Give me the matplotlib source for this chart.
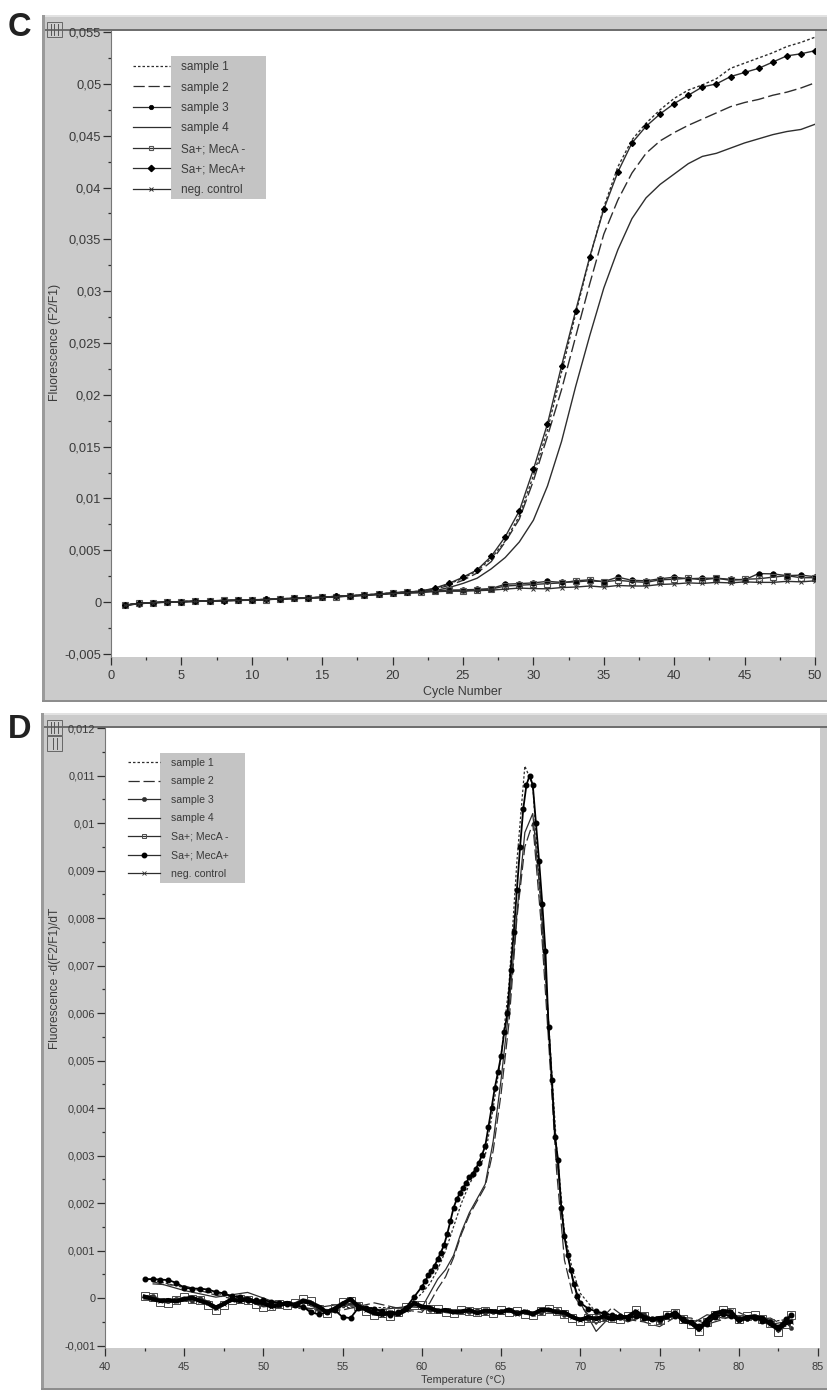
"""Rebuild the two-panel qPCR figure (C amplification, D melting curves)."""
import matplotlib

matplotlib.use("Agg")
import matplotlib.pyplot as plt
from matplotlib.patches import Rectangle

W, H = 828, 1390
plt.rcParams["font.family"] = ["Liberation Sans", "DejaVu Sans"]

LEGEND_NAMES = ["sample 1", "sample 2", "sample 3", "sample 4",
                "Sa+; MecA -", "Sa+; MecA+", "neg. control"]

# panel C, fluorescence in units of 0.001
CYCLES = list(range(1, 51))
C_SAMPLE1 = [-0.28, -0.12, -0.04, 0.0, 0.05, 0.09, 0.12, 0.15, 0.17, 0.21, 0.26, 0.31, 0.36, 0.41, 0.47, 0.55,
             0.62, 0.70, 0.78, 0.88, 0.97, 1.05, 1.30, 1.75, 2.30, 3.00, 4.20, 5.90, 8.30, 12.2, 16.6, 22.2,
             27.8, 33.2, 38.1, 42.0, 44.6, 46.2, 47.5, 48.6, 49.4, 49.9, 50.5, 51.5, 52.0, 52.5, 53.0, 53.6,
             54.0, 54.5]
C_SAMPLE2 = [-0.30, -0.14, -0.05, 0.0, 0.04, 0.08, 0.11, 0.14, 0.18, 0.20, 0.25, 0.30, 0.35, 0.40, 0.46, 0.54,
             0.60, 0.68, 0.76, 0.86, 0.95, 1.02, 1.25, 1.60, 2.10, 2.80, 3.90, 5.80, 8.00, 11.7, 16.0, 20.5,
             25.6, 30.7, 35.5, 38.8, 41.4, 43.3, 44.5, 45.3, 46.0, 46.6, 47.2, 47.8, 48.2, 48.5, 48.9, 49.2,
             49.6, 50.1]
C_SAMPLE3 = [-0.32, -0.15, -0.06, -0.01, 0.04, 0.07, 0.12, 0.16, 0.18, 0.22, 0.26, 0.32, 0.35, 0.42, 0.46, 0.56,
             0.60, 0.70, 0.76, 0.90, 0.98, 1.02, 1.10, 1.15, 1.18, 1.22, 1.30, 1.72, 1.78, 1.85, 2.00, 1.90,
             1.95, 2.05, 1.98, 2.40, 2.10, 2.05, 2.25, 2.40, 2.25, 2.30, 2.30, 2.20, 2.15, 2.75, 2.72, 2.55,
             2.60, 2.45]
C_SAMPLE4 = [-0.30, -0.13, -0.05, 0.0, 0.04, 0.07, 0.10, 0.14, 0.16, 0.19, 0.24, 0.30, 0.34, 0.39, 0.45, 0.52,
             0.58, 0.66, 0.74, 0.82, 0.85, 0.90, 1.10, 1.40, 1.80, 2.30, 3.20, 4.30, 5.80, 7.90, 11.2, 15.5,
             20.8, 25.7, 30.3, 34.0, 37.0, 39.0, 40.3, 41.3, 42.3, 43.0, 43.3, 43.8, 44.3, 44.7, 45.1, 45.4,
             45.6, 46.1]
C_MECA_NEG = [-0.30, -0.12, -0.05, 0.01, 0.05, 0.06, 0.10, 0.16, 0.16, 0.20, 0.24, 0.31, 0.36, 0.38, 0.46, 0.52,
              0.60, 0.66, 0.76, 0.86, 0.95, 1.00, 1.08, 1.12, 1.10, 1.18, 1.25, 1.55, 1.62, 1.70, 1.78, 1.85,
              2.05, 2.15, 1.95, 2.10, 1.98, 1.90, 2.15, 2.20, 2.30, 2.15, 2.30, 2.10, 2.20, 2.25, 2.40, 2.55,
              2.35, 2.35]
C_MECA_POS = [-0.30, -0.12, -0.05, 0.0, 0.05, 0.08, 0.12, 0.15, 0.18, 0.20, 0.25, 0.32, 0.36, 0.40, 0.48, 0.55,
              0.62, 0.68, 0.78, 0.88, 0.97, 1.06, 1.35, 1.80, 2.40, 3.10, 4.40, 6.30, 8.80, 12.8, 17.2, 22.8,
              28.1, 33.3, 37.9, 41.5, 44.3, 45.9, 47.1, 48.1, 48.9, 49.7, 50.0, 50.7, 51.1, 51.5, 52.1, 52.7,
              52.9, 53.2]
C_NEG = [-0.33, -0.16, -0.07, -0.02, 0.03, 0.06, 0.09, 0.13, 0.15, 0.18, 0.23, 0.29, 0.33, 0.37, 0.44, 0.50,
         0.57, 0.64, 0.72, 0.82, 0.90, 0.95, 1.00, 1.05, 1.05, 1.10, 1.15, 1.25, 1.35, 1.30, 1.28, 1.40,
         1.45, 1.55, 1.45, 1.60, 1.55, 1.55, 1.70, 1.75, 1.85, 1.80, 1.90, 1.85, 1.95, 1.90, 1.90, 2.00,
         1.95, 2.05]

C_YTICKS = [-0.005, 0, 0.005, 0.01, 0.015, 0.02, 0.025, 0.03, 0.035, 0.04, 0.045, 0.05, 0.055]
C_YLABELS = ["-0,005", "0", "0,005", "0,01", "0,015", "0,02", "0,025", "0,03", "0,035", "0,04", "0,045", "0,05",
             "0,055"]
C_XTICKS = [0, 5, 10, 15, 20, 25, 30, 35, 40, 45, 50]

# panel D, -d(F2/F1)/dT in units of 0.001
T_COARSE = [43, 45, 47, 49, 51, 53, 55, 57, 59, 60, 60.5, 61, 61.5, 62, 62.5, 63, 63.5, 64, 64.5, 65, 65.5, 66,
            66.5, 67, 67.5, 68, 68.5, 69, 69.5, 70, 71, 72, 73, 74, 75, 76, 77, 78, 79, 80, 81, 82, 83]
D_SAMPLE1 = [0.38, 0.22, 0.10, -0.02, -0.10, -0.28, -0.20, -0.20, -0.20, 0.10, 0.30, 0.60, 1.00, 1.50, 2.00, 2.40,
             2.70, 3.00, 4.00, 5.10, 6.60, 9.20, 11.2, 10.8, 8.30, 5.80, 3.20, 1.40, 0.60, 0.10, -0.30, -0.40,
             -0.42, -0.40, -0.40, -0.35, -0.50, -0.45, -0.30, -0.42, -0.45, -0.50, -0.45]
D_SAMPLE2 = [0.30, 0.26, 0.06, -0.08, -0.06, -0.24, -0.25, -0.10, -0.25, -0.30, -0.10, 0.20, 0.45, 0.85, 1.35, 1.75,
             2.05, 2.35, 3.10, 4.30, 5.80, 8.00, 9.50, 10.0, 8.00, 5.40, 2.70, 0.80, 0.10, -0.15, -0.55, -0.20,
             -0.45, -0.50, -0.60, -0.40, -0.42, -0.55, -0.45, -0.30, -0.45, -0.42, -0.60]
D_SAMPLE4 = [0.35, 0.16, 0.02, 0.12, -0.12, -0.22, -0.12, -0.26, -0.18, -0.20, 0.10, 0.40, 0.60, 0.90, 1.40, 1.80,
             2.10, 2.40, 3.30, 4.60, 6.10, 8.10, 9.80, 10.2, 8.40, 5.80, 3.00, 1.30, 0.40, -0.10, -0.70, -0.35,
             -0.50, -0.38, -0.48, -0.32, -0.55, -0.35, -0.42, -0.40, -0.38, -0.55, -0.50]

T_FINE = [42.5, 43, 43.5, 44, 44.5, 45, 45.5, 46, 46.5, 47, 47.5, 48, 48.5, 49, 49.5, 50, 50.5, 51, 51.5, 52, 52.5,
          53, 53.5, 54, 54.5, 55, 55.5, 56, 56.5, 57, 57.5, 58, 58.5, 59, 59.5,
          60, 60.2, 60.4, 60.6, 60.8, 61, 61.2, 61.4, 61.6, 61.8, 62, 62.2, 62.4, 62.6, 62.8, 63, 63.2, 63.4, 63.6,
          63.8, 64, 64.2, 64.4, 64.6, 64.8, 65, 65.2, 65.4, 65.6, 65.8, 66, 66.2, 66.4, 66.6, 66.8, 67, 67.2, 67.4,
          67.6, 67.8, 68, 68.2, 68.4, 68.6, 68.8, 69, 69.2, 69.4, 69.6, 69.8, 70,
          70.5, 71, 71.5, 72, 72.5, 73, 73.5, 74, 74.5, 75, 75.5, 76, 76.5, 77, 77.5, 78, 78.5, 79, 79.5, 80, 80.5,
          81, 81.5, 82, 82.5, 83, 83.3]
D_MECA_POS = [0.40, 0.40, 0.39, 0.38, 0.32, 0.22, 0.20, 0.20, 0.18, 0.13, 0.10, 0.04, 0.02, -0.04, -0.05, -0.04,
              -0.08, -0.10, -0.12, -0.15, -0.18, -0.30, -0.34, -0.30, -0.25, -0.40, -0.42, -0.20, -0.20, -0.22,
              -0.28, -0.36, -0.30, -0.20, 0.02,
              0.24, 0.35, 0.48, 0.58, 0.68, 0.82, 0.96, 1.12, 1.35, 1.62, 1.90, 2.08, 2.21, 2.32, 2.43, 2.55, 2.62,
              2.72, 2.85, 3.02, 3.20, 3.60, 4.00, 4.42, 4.75, 5.10, 5.60, 6.00, 6.90, 7.70, 8.60, 9.50, 10.3, 10.8,
              11.0, 10.8, 10.0, 9.20, 8.30, 7.30, 5.70, 4.60, 3.40, 2.90, 1.90, 1.30, 0.90, 0.60, 0.30, 0.05, -0.10,
              -0.22, -0.28, -0.32, -0.36, -0.38, -0.42, -0.38, -0.42, -0.45, -0.44, -0.36, -0.38, -0.45, -0.50, -0.58,
              -0.55, -0.40, -0.34, -0.38, -0.45, -0.42, -0.42, -0.48, -0.50, -0.60, -0.45, -0.35]

T_LOW = [42.5, 43, 43.5, 44, 44.5, 45, 45.5, 46, 46.5, 47, 47.5, 48, 48.5, 49, 49.5, 50, 50.5, 51, 51.5, 52, 52.5,
         53, 53.5, 54, 54.5, 55, 55.5, 56, 56.5, 57, 57.5, 58, 58.5, 59, 59.5, 60, 60.5, 61, 61.5, 62, 62.5, 63,
         63.5, 64, 64.5, 65, 65.5, 66, 66.5, 67, 67.5, 68, 68.5, 69, 69.5, 70, 70.5, 71, 71.5, 72, 72.5, 73, 73.5,
         74, 74.5, 75, 75.5, 76, 76.5, 77, 77.5, 78, 78.5, 79, 79.5, 80, 80.5, 81, 81.5, 82, 82.5, 83, 83.3]
D_MECA_NEG = [0.05, 0.02, -0.08, -0.10, -0.04, 0.02, -0.02, -0.03, -0.14, -0.25, -0.15, -0.05, -0.01, -0.03, -0.12,
              -0.18, -0.16, -0.13, -0.15, -0.10, -0.02, -0.06, -0.22, -0.32, -0.20, -0.08, -0.06, -0.16, -0.28, -0.35,
              -0.32, -0.38, -0.30, -0.18, -0.15, -0.15, -0.22, -0.23, -0.30, -0.32, -0.26, -0.27, -0.30, -0.28, -0.32,
              -0.25, -0.30, -0.27, -0.33, -0.36, -0.28, -0.22, -0.28, -0.33, -0.42, -0.48, -0.42, -0.42, -0.40, -0.42,
              -0.45, -0.38, -0.26, -0.38, -0.48, -0.46, -0.36, -0.32, -0.45, -0.55, -0.70, -0.50, -0.35, -0.24, -0.30,
              -0.45, -0.38, -0.35, -0.44, -0.52, -0.72, -0.55, -0.35]
D_SAMPLE3 = [0.02, 0.05, -0.04, -0.06, -0.01, -0.02, -0.06, 0.0, -0.08, -0.18, -0.10, -0.01, -0.05, -0.07, -0.08,
             -0.13, -0.12, -0.16, -0.12, -0.13, -0.08, -0.12, -0.26, -0.28, -0.25, -0.15, -0.12, -0.12, -0.22, -0.30,
             -0.28, -0.34, -0.33, -0.22, -0.12, -0.20, -0.26, -0.26, -0.26, -0.28, -0.29, -0.30, -0.26, -0.32, -0.29,
             -0.28, -0.26, -0.30, -0.30, -0.33, -0.31, -0.26, -0.26, -0.36, -0.38, -0.44, -0.45, -0.40, -0.43, -0.40,
             -0.42, -0.42, -0.30, -0.34, -0.44, -0.50, -0.40, -0.36, -0.42, -0.50, -0.62, -0.54, -0.38, -0.30, -0.34,
             -0.42, -0.44, -0.38, -0.40, -0.48, -0.62, -0.48, -0.62]
D_NEG = [0.03, -0.02, -0.06, -0.04, -0.07, -0.02, 0.01, -0.06, -0.11, -0.20, -0.12, -0.03, -0.06, -0.01, -0.09,
         -0.10, -0.18, -0.15, -0.10, -0.15, -0.06, -0.10, -0.18, -0.30, -0.22, -0.12, -0.02, -0.18, -0.24, -0.32,
         -0.35, -0.30, -0.34, -0.25, -0.10, -0.18, -0.20, -0.28, -0.25, -0.30, -0.28, -0.25, -0.32, -0.26, -0.28,
         -0.30, -0.24, -0.33, -0.28, -0.34, -0.25, -0.24, -0.30, -0.30, -0.40, -0.46, -0.40, -0.44, -0.38, -0.45,
         -0.40, -0.40, -0.28, -0.40, -0.45, -0.42, -0.40, -0.30, -0.48, -0.52, -0.66, -0.46, -0.32, -0.28, -0.28,
         -0.48, -0.40, -0.40, -0.42, -0.55, -0.65, -0.52, -0.50]

D_YTICKS = [-0.001, 0, 0.001, 0.002, 0.003, 0.004, 0.005, 0.006, 0.007, 0.008, 0.009, 0.01, 0.011, 0.012]
D_YLABELS = ["-0,001", "0", "0,001", "0,002", "0,003", "0,004", "0,005", "0,006", "0,007", "0,008", "0,009", "0,01",
             "0,011", "0,012"]
D_XTICKS = [40, 45, 50, 55, 60, 65, 70, 75, 80, 85]

GREY = "#cbcbcb"
INK = "#2e2e2e"
TEXT = "#3a3a3a"


def milli(values):
    return [v * 0.001 for v in values]


def frac_rect(left, top, right, bottom):
    return [left / W, 1 - bottom / H, (right - left) / W, (bottom - top) / H]


def window(fig, left, top, right, bottom, plot_top):
    """Grey software window behind one plot."""
    def box(x0, y0, x1, y1, color):
        fig.add_artist(Rectangle((x0 / W, 1 - y1 / H), (x1 - x0) / W, (y1 - y0) / H,
                                 transform=fig.transFigure, color=color, lw=0, zorder=-5))
    box(left, top, right, bottom, GREY)
    box(left, top, right, top + 2, "#e2e2e2")
    box(left, plot_top - 2, right, plot_top, "#6f6f6f")
    box(left, top, left + 3, bottom, "#9a9a9a")
    box(left, bottom - 2, right, bottom, "#8d8d8d")


def icon(fig, x, y, size, lines):
    fig.add_artist(Rectangle((x / W, 1 - (y + size) / H), size / W, size / H, transform=fig.transFigure,
                             fc="none", ec="#666666", lw=0.7))
    for step in lines:
        fig.add_artist(plt.Line2D([(x + size * step) / W] * 2, [1 - (y + size - 2) / H, 1 - (y + 2) / H],
                                  transform=fig.transFigure, color="#555555", lw=0.7))


def style_axes(ax, xticks, yticks, ylabels, tick_size, xpad):
    ax.set_xticks(xticks)
    ax.set_yticks(yticks)
    ax.set_yticklabels(ylabels)
    ax.set_xticks([a + (b - a) / 2 for a, b in zip(xticks, xticks[1:])], minor=True)
    ax.set_yticks([a + (b - a) / 2 for a, b in zip(yticks, yticks[1:])], minor=True)
    ax.tick_params(which="major", length=5.5, width=0.9, color=INK, labelcolor=TEXT, labelsize=tick_size, pad=1.5)
    ax.tick_params(which="minor", length=2.5, width=0.9, color=INK)
    ax.tick_params(axis="x", which="major", pad=xpad)
    for side in ("top", "right", "bottom"):
        ax.spines[side].set_visible(False)
    ax.spines["left"].set_color("#777777")
    ax.spines["left"].set_linewidth(0.8)


def add_legend(ax, fig, box, anchor, size, spacing, hlen, pad):
    fig.add_artist(Rectangle((box[0] / W, 1 - box[3] / H), (box[2] - box[0]) / W, (box[3] - box[1]) / H,
                             transform=fig.transFigure, color="#c4c4c4", lw=0, zorder=3))
    leg = ax.legend(loc="upper left", bbox_to_anchor=(anchor[0] / W, 1 - anchor[1] / H),
                    bbox_transform=fig.transFigure, frameon=False, fontsize=size, labelspacing=spacing,
                    handlelength=hlen, handletextpad=pad, borderpad=0, borderaxespad=0, labelcolor=TEXT)
    for handle in leg.legend_handles:
        handle.set_linewidth(0.9)
        handle.set_color(INK)
        if handle.get_marker() not in ("None", None, ""):
            handle.set_markersize(3.2)
    leg.set_zorder(6)
    fig.add_artist(leg)
    ax.legend_ = None


def panel_c(fig):
    ax = fig.add_axes(frac_rect(111, 31, 815, 657))
    ax.plot(CYCLES, milli(C_SAMPLE1), color=INK, lw=1.0, ls=(0, (2, 1.6)), label=LEGEND_NAMES[0])
    ax.plot(CYCLES, milli(C_SAMPLE2), color=INK, lw=1.0, ls=(0, (9, 3)), label=LEGEND_NAMES[1])
    ax.plot(CYCLES, milli(C_SAMPLE3), color=INK, lw=1.0, marker="o", ms=4, mfc="black", mec="black", mew=0.5,
            label=LEGEND_NAMES[2])
    ax.plot(CYCLES, milli(C_SAMPLE4), color=INK, lw=1.0, label=LEGEND_NAMES[3])
    ax.plot(CYCLES, milli(C_MECA_NEG), color=INK, lw=1.0, marker="s", ms=4.6, mfc="none", mec="#555555", mew=0.8,
            label=LEGEND_NAMES[4])
    ax.plot(CYCLES, milli(C_MECA_POS), color=INK, lw=1.0, marker="D", ms=3, mfc="black", mec="black",
            label=LEGEND_NAMES[5])
    ax.plot(CYCLES, milli(C_NEG), color=INK, lw=1.0, marker="x", ms=3.5, mew=0.7, label=LEGEND_NAMES[6])
    ax.set_xlim(0, 50)
    ax.set_ylim(-0.0053, 0.0551)
    style_axes(ax, C_XTICKS, C_YTICKS, C_YLABELS, 9.3, 3.5)
    add_legend(ax, fig, (171, 56, 266, 199), (133, 61), 8.5, 0.72, 3.1, 0.95)


def panel_d(fig):
    ax = fig.add_axes(frac_rect(105, 728, 820, 1348))
    ax.plot(T_COARSE, milli(D_SAMPLE1), color=INK, lw=0.9, ls=(0, (2, 1.6)), label=LEGEND_NAMES[0])
    ax.plot(T_COARSE, milli(D_SAMPLE2), color=INK, lw=0.9, ls=(0, (9, 3)), label=LEGEND_NAMES[1])
    ax.plot(T_LOW, milli(D_SAMPLE3), color=INK, lw=1.6, marker="o", ms=3, mfc=INK, mew=0.3, label=LEGEND_NAMES[2])
    ax.plot(T_COARSE, milli(D_SAMPLE4), color=INK, lw=0.9, label=LEGEND_NAMES[3])
    ax.plot(T_LOW, milli(D_MECA_NEG), color=INK, lw=1.2, marker="s", ms=6.2, mfc="none", mec="#4a4a4a", mew=0.7,
            label=LEGEND_NAMES[4])
    ax.plot(T_FINE, milli(D_MECA_POS), color="black", lw=1.3, marker="o", ms=3.3, mfc="black", mec="black",
            label=LEGEND_NAMES[5])
    ax.plot(T_LOW, milli(D_NEG), color="black", lw=3, marker="x", ms=3.5, mew=0.6, label=LEGEND_NAMES[6])
    ax.set_xlim(40, 85.13)
    ax.set_ylim(-0.00105, 0.012)
    style_axes(ax, D_XTICKS, D_YTICKS, D_YLABELS, 7.9, 4.5)
    add_legend(ax, fig, (160, 753, 245, 883), (128, 758), 7.6, 0.8, 3.0, 1.1)


def main():
    fig = plt.figure(figsize=(W / 100, H / 100), dpi=100, facecolor="white")
    window(fig, 42, 15, 828, 702, 31)
    window(fig, 41, 713, 828, 1390, 728)
    icon(fig, 47, 22, 15, (0.25, 0.5, 0.75))
    icon(fig, 47, 720, 15, (0.25, 0.5, 0.75))
    icon(fig, 47, 736, 15, (0.4, 0.65))
    panel_c(fig)
    panel_d(fig)
    for letter, top in (("C", 27), ("D", 729)):
        fig.text(8 / W, 1 - top / H, letter, fontsize=23.5, fontweight="bold", color="#222222", va="center")
    fig.text(55 / W, 1 - 342 / H, "Fluorescence (F2/F1)", rotation=90, ha="center", va="center", fontsize=8.8,
             color=TEXT)
    fig.text(463 / W, 1 - 692 / H, "Cycle Number", ha="center", va="center", fontsize=9, color=TEXT)
    fig.text(55 / W, 1 - 978 / H, "Fluorescence -d(F2/F1)/dT", rotation=90, ha="center", va="center", fontsize=8.6,
             color=TEXT)
    fig.text(463 / W, 1 - 1380 / H, "Temperature (\N{DEGREE SIGN}C)", ha="center", va="center", fontsize=7.8,
             color=TEXT)
    fig.savefig("out.png", dpi=100)
    plt.close(fig)


if __name__ == "__main__":
    main()
